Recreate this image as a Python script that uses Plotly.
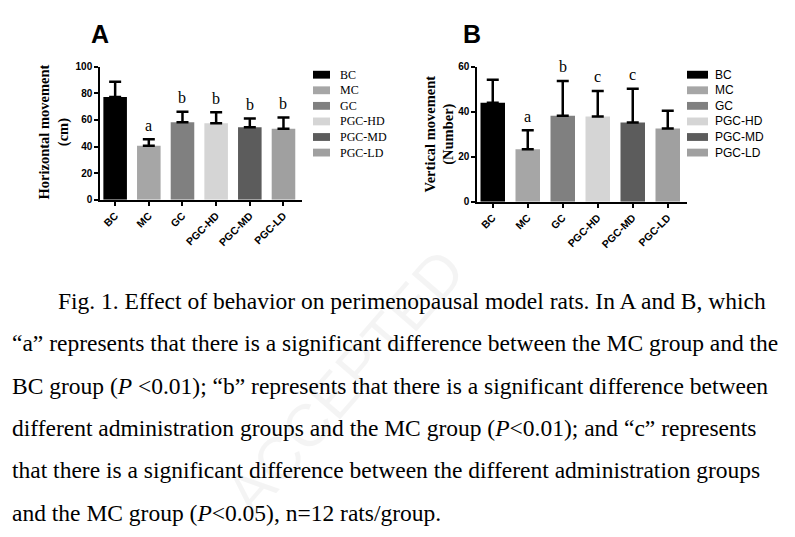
import plotly.graph_objects as go

W, H = 795, 537
OFF = 8  # page body margin of the html file

groups = ['BC', 'MC', 'GC', 'PGC-HD', 'PGC-MD', 'PGC-LD']
colors = ['#000000', '#a6a6a6', '#808080', '#d5d5d5', '#5c5c5c', '#a0a0a0']

# panel A: horizontal movement (cm), mean and upper SD
horiz_mean = [77.2, 40.6, 58.3, 57.4, 54.4, 53.4]
horiz_sd = [11.4, 4.9, 7.7, 8.4, 6.6, 8.3]
horiz_sig = ['', 'a', 'b', 'b', 'b', 'b']

# panel B: vertical movement (number), mean and upper SD
vert_mean = [43.9, 23.3, 38.2, 37.8, 35.2, 32.5]
vert_sd = [10.3, 8.4, 15.4, 11.4, 15.0, 7.9]
vert_sig = ['', 'a', 'b', 'c', 'c', '']

caption = [
    'Fig. 1. Effect of behavior on perimenopausal model rats. In A and B, which',
    '\u201ca\u201d represents that there is a significant difference between the MC group and the',
    'BC group (<i>P</i> <0.01); \u201cb\u201d represents that there is a significant difference between',
    'different administration groups and the MC group (<i>P</i><0.01); and \u201cc\u201d represents',
    'that there is a significant difference between the different administration groups',
    'and the MC group (<i>P</i><0.05), n=12 rats/group.',
]

SERIF = 'Liberation Serif'
SANS = 'Liberation Sans'


def px(x):
    return (x - OFF) / W


def py(y):
    return 1 - (y - OFF) / H


fig = go.Figure()

# faint watermark, drawn first so everything sits above it
fig.add_annotation(x=px(345), y=py(385), xref='paper', yref='paper', text='ACCEPTED',
                   showarrow=False, textangle=-49, xanchor='center', yanchor='middle',
                   font=dict(family=SANS, size=60, color='rgba(0,0,0,0.045)'))

panels = [
    ('x', 'y', horiz_mean, horiz_sd, horiz_sig),
    ('x2', 'y2', vert_mean, vert_sd, vert_sig),
]
for xa, ya, means, sds, sig in panels:
    for g, c, m, s in zip(groups, colors, means, sds):
        fig.add_trace(go.Bar(
            x=[g], y=[m], xaxis=xa, yaxis=ya, width=0.7,
            marker=dict(color=c, line=dict(width=0)),
            error_y=dict(type='data', array=[s], arrayminus=[0], symmetric=False,
                         color='black', thickness=2.5, width=6),
            showlegend=False, hoverinfo='skip',
        ))
    for g, m, s, t in zip(groups, means, sds, sig):
        if t:
            fig.add_annotation(x=g, y=m + s, xref=xa, yref=ya, text=t, showarrow=False,
                               xanchor='center', yanchor='middle', yshift=14,
                               font=dict(family=SERIF, size=16, color='black'))

axis_common = dict(showline=True, linecolor='black', linewidth=1.5, ticks='outside',
                   ticklen=4, tickwidth=1.5, tickcolor='black', showgrid=False,
                   zeroline=False, fixedrange=True)
xtick_font = dict(family=SANS, size=10.5, color='black', weight='bold')
ytick_font = dict(family=SANS, size=10, color='black', weight='bold')

fig.update_layout(
    width=W, height=H,
    margin=dict(l=0, r=0, t=0, b=0),
    paper_bgcolor='white', plot_bgcolor='white',
    barmode='overlay',
    xaxis=dict(domain=[px(100), px(302)], anchor='y', range=[-0.45, 5.55],
               tickangle=-45, tickfont=xtick_font, **axis_common),
    yaxis=dict(domain=[py(198.7), py(62.7)], anchor='x', range=[0, 100], dtick=20,
               tickfont=ytick_font, **axis_common),
    xaxis2=dict(domain=[px(477), px(687)], anchor='y2', range=[-0.45, 5.55],
                tickangle=-45, tickfont=xtick_font, **axis_common),
    yaxis2=dict(domain=[py(200.7), py(62.7)], anchor='x2', range=[0, 60], dtick=20,
                tickfont=ytick_font, **axis_common),
)

# panel letters
for lbl, xc in [('A', 100), ('B', 472)]:
    fig.add_annotation(x=px(xc), y=py(29), xref='paper', yref='paper', text=lbl,
                       showarrow=False, xanchor='center', yanchor='middle',
                       font=dict(family=SANS, size=25, color='black', weight='bold'))

# y-axis titles
for txt, xc, yc in [('Horizontal movement<br>(cm)', 54, 130),
                    ('Vertical movement<br>(Number)', 440, 132)]:
    fig.add_annotation(x=px(xc), y=py(yc), xref='paper', yref='paper', text=txt,
                       showarrow=False, textangle=-90, xanchor='center', yanchor='middle',
                       font=dict(family=SERIF, size=14.5, color='black', weight='bold'))

# legends
legend_specs = [(313, 330, 338, SERIF), (687, 708, 713, SANS)]
for bx0, bx1, tx, fam in legend_specs:
    for i, (g, c) in enumerate(zip(groups, colors)):
        yc = 71 + 15.9 * i
        fig.add_shape(type='rect', xref='paper', yref='paper',
                      x0=px(bx0), x1=px(bx1), y0=py(yc + 4), y1=py(yc - 4),
                      fillcolor=c, line=dict(width=0))
        fig.add_annotation(x=px(tx), y=py(yc), xref='paper', yref='paper', text=g,
                           showarrow=False, xanchor='left', yanchor='middle',
                           font=dict(family=fam, size=12, color='black'))

# caption
for i, line in enumerate(caption):
    x0 = 58 if i == 0 else 12
    fig.add_annotation(x=px(x0 - 2), y=py(301.7 + 43.3 * i), xref='paper', yref='paper',
                       text=line, showarrow=False, xanchor='left', yanchor='middle',
                       font=dict(family=SERIF, size=23.5, color='black'))

fig.write_html('out.html')
